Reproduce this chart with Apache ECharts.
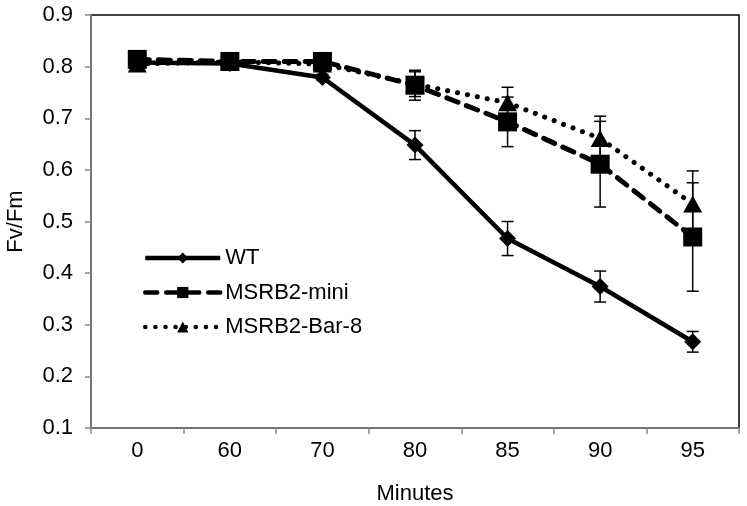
<!DOCTYPE html>
<html>
<head>
<meta charset="utf-8">
<script src="https://cdn.jsdelivr.net/npm/echarts@6/dist/echarts.min.js"></script>
<style>html,body{margin:0;padding:0;background:#fff}#c{width:747px;height:506px}</style>
</head>
<body>
<div id="c"></div>
<script>
var categories = ['0', '60', '70', '80', '85', '90', '95'];
var wtValues   = [0.808, 0.806, 0.779, 0.648, 0.467, 0.374, 0.267];
var wtErrors   = [0.005, 0.005, 0.006, 0.028, 0.033, 0.030, 0.020];
var miniValues = [0.814, 0.810, 0.810, 0.764, 0.693, 0.611, 0.470];
var miniErrors = [0.006, 0.005, 0.006, 0.029, 0.048, 0.083, 0.105];
var barValues  = [0.805, 0.809, 0.805, 0.766, 0.730, 0.661, 0.534];
var barErrors  = [0.005, 0.005, 0.006, 0.024, 0.030, 0.043, 0.064];
var yTicks = [0.1, 0.2, 0.3, 0.4, 0.5, 0.6, 0.7, 0.8, 0.9];

var FONT = '"Liberation Sans", Arial, sans-serif';

function errData(vals, errs) {
  return vals.map(function (v, i) { return [i, v - errs[i], v + errs[i]]; });
}
function errSeries(vals, errs) {
  return {
    type: 'custom',
    silent: true,
    z: 1,
    renderItem: function (params, api) {
      var x = api.value(0);
      var lo = api.coord([x, api.value(1)]);
      var hi = api.coord([x, api.value(2)]);
      var w = 6;
      var st = { stroke: '#000', lineWidth: 1.5 };
      return {
        type: 'group',
        children: [
          { type: 'line', shape: { x1: lo[0], y1: lo[1], x2: hi[0], y2: hi[1] }, style: st },
          { type: 'line', shape: { x1: lo[0] - w, y1: lo[1], x2: lo[0] + w, y2: lo[1] }, style: st },
          { type: 'line', shape: { x1: hi[0] - w, y1: hi[1], x2: hi[0] + w, y2: hi[1] }, style: st }
        ]
      };
    },
    data: errData(vals, errs),
    tooltip: { show: false }
  };
}

var chart = echarts.init(document.getElementById('c'), null, { renderer: 'canvas' });
chart.setOption({
  animation: false,
  backgroundColor: '#fff',
  grid: { left: 91, right: 8, top: 15, bottom: 78, containLabel: false, outerBoundsMode: 'none',
    show: true, borderColor: '#000', borderWidth: 1.5, backgroundColor: 'transparent' },
  legend: {
    orient: 'vertical',
    left: 138,
    top: 242,
    itemWidth: 75,
    itemHeight: 14,
    itemGap: 12.5,
    data: ['WT', 'MSRB2-mini', 'MSRB2-Bar-8'],
    lineStyle: { width: 4.5 },
    textStyle: { fontFamily: FONT, fontSize: 22, color: '#000', padding: [0, 0, 0, 0] }
  },
  xAxis: {
    type: 'category',
    data: categories,
    boundaryGap: true,
    name: 'Minutes',
    nameLocation: 'middle',
    nameGap: 55,
    nameTextStyle: { fontFamily: FONT, fontSize: 22, color: '#000' },
    axisLine: { lineStyle: { color: '#888', width: 1.5 } },
    axisTick: { show: true, length: 6, lineStyle: { color: '#888', width: 1.5 } },
    axisLabel: { fontFamily: FONT, fontSize: 22, color: '#000', margin: 12 },
    splitLine: { show: false }
  },
  yAxis: {
    type: 'value',
    min: 0.1,
    max: 0.9,
    interval: 0.1,
    name: 'Fv/Fm',
    nameLocation: 'middle',
    nameRotate: 90,
    nameGap: 64,
    nameTextStyle: { fontFamily: FONT, fontSize: 22, color: '#000' },
    axisLine: { show: true, lineStyle: { color: '#888', width: 1.5 } },
    axisTick: { show: true, length: 6, lineStyle: { color: '#888', width: 1.5 } },
    axisLabel: { fontFamily: FONT, fontSize: 22, color: '#000', margin: 18,
      formatter: function (v) { return (Math.round(v * 10) / 10).toFixed(1); } },
    splitLine: { show: false }
  },
  series: [
    errSeries(barValues, barErrors),
    errSeries(wtValues, wtErrors),
    errSeries(miniValues, miniErrors),
    {
      name: 'MSRB2-Bar-8', type: 'line', data: barValues, z: 2,
      symbol: 'triangle', symbolSize: [19, 17],
      itemStyle: { color: '#000' },
      lineStyle: { color: '#000', width: 5, type: [0.1, 10], cap: 'round' }
    },
    {
      name: 'WT', type: 'line', data: wtValues, z: 3,
      symbol: 'diamond', symbolSize: 17,
      itemStyle: { color: '#000' },
      lineStyle: { color: '#000', width: 4.5, type: 'solid' }
    },
    {
      name: 'MSRB2-mini', type: 'line', data: miniValues, z: 4,
      symbol: 'rect', symbolSize: 19,
      itemStyle: { color: '#000' },
      lineStyle: { color: '#000', width: 5, type: [12, 9], cap: 'round' }
    }
  ]
});
</script>
</body>
</html>
